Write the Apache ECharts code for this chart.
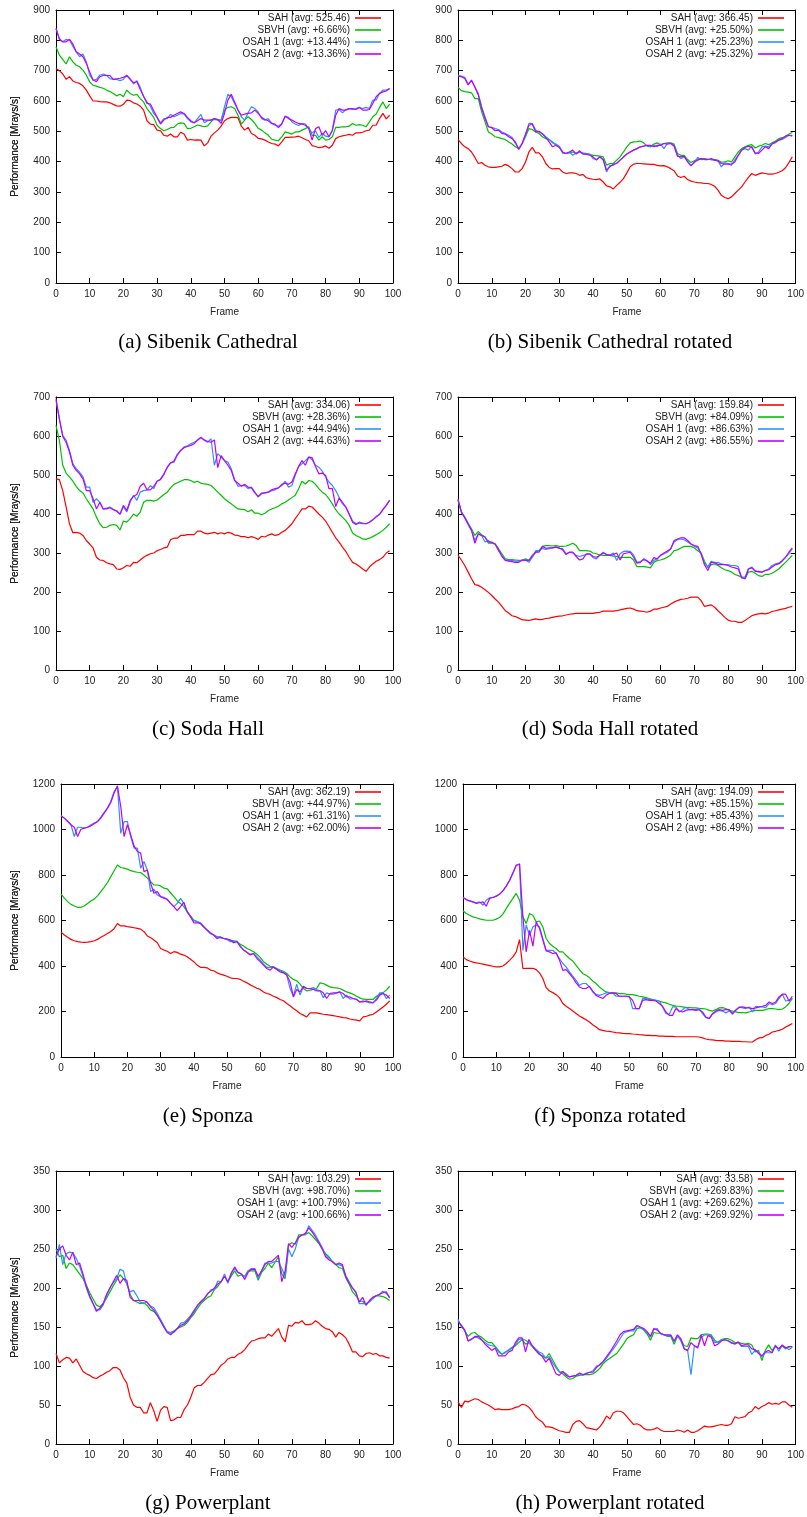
<!DOCTYPE html>
<html>
<head>
<meta charset="utf-8">
<script src="https://cdn.jsdelivr.net/npm/echarts@6/dist/echarts.min.js"></script>
<style>
  html, body { margin: 0; padding: 0; background: #fff; }
  #chart { width: 807px; height: 1517px; }
</style>
</head>
<body>
<div id="chart"></div>
<script>
// frame numbers on the x axis
const frames = Array.from({ length: 100 }, (_, i) => i);

// (a) Sibenik Cathedral
const sibenikNames = ['SAH (avg: 525.46)', 'SBVH (avg: +6.66%)', 'OSAH 1 (avg: +13.44%)', 'OSAH 2 (avg: +13.36%)'];
const sibenikSah = [707,700,689,672,680,666,661,658,650,636, 617,600,600,598,597,597,594,589,584,583, 589,603,601,594,590,583,570,535,524,522, 504,502,487,484,491,482,482,497,491,471, 473,471,472,471,452,462,484,495,504,517, 535,542,546,546,545,517,504,513,493,487, 477,475,471,465,460,458,452,465,480,480, 481,482,484,479,473,469,453,450,446,448, 452,444,454,476,482,485,487,490,487,495, 495,497,502,504,520,520,542,559,541,553];
const sibenikSbvh = [779,751,737,722,746,729,718,713,702,685, 663,652,649,645,642,636,631,625,617,622, 614,636,625,619,622,608,597,575,561,546, 520,509,502,506,512,513,524,528,526,509, 510,515,521,518,515,518,531,542,539,537, 570,579,581,575,553,524,537,548,539,526, 510,504,495,487,474,471,469,482,498,495, 491,498,498,504,509,515,487,487,471,482, 471,473,482,513,513,515,515,517,526,520, 522,520,515,531,548,557,578,597,575,590];
const sibenikOsah1 = [839,806,795,803,801,781,762,746,755,729, 685,669,671,685,689,685,674,671,671,667, 671,685,674,656,667,645,614,597,583,559, 546,528,542,542,556,548,553,559,557,542, 531,528,542,556,528,535,537,539,537,535, 581,622,614,592,570,548,537,561,581,575, 564,542,537,542,526,520,517,526,550,546, 531,524,519,526,524,509,495,502,480,493, 484,482,504,570,572,561,572,575,572,575, 579,575,579,575,603,603,625,636,636,641];
const sibenikOsah2 = [839,803,795,795,803,788,762,755,746,724, 696,669,664,680,684,684,684,671,673,675, 678,684,671,660,664,638,616,592,590,568, 546,524,537,546,546,553,559,564,559,546, 535,528,535,542,537,537,537,542,539,526, 559,603,622,597,570,553,557,559,561,570, 559,546,539,535,526,524,512,524,550,542, 537,531,526,524,520,509,471,509,515,487, 502,482,502,553,575,570,570,575,575,572, 579,570,570,572,592,614,625,630,633,641];

// (b) Sibenik Cathedral rotated
const sibenikRotNames = ['SAH (avg: 366.45)', 'SBVH (avg: +25.50%)', 'OSAH 1 (avg: +25.23%)', 'OSAH 2 (avg: +25.32%)'];
const sibenikRotSah = [473,460,449,443,432,414,394,397,388,383, 381,381,383,385,391,386,377,366,366,377, 399,432,447,429,429,416,394,381,376,377, 377,366,361,363,363,361,355,358,347,344, 342,341,343,333,320,317,310,322,332,344, 363,383,392,394,394,393,392,391,391,388, 386,387,383,377,370,353,348,352,341,336, 333,331,330,328,328,325,319,306,289,282, 278,284,295,306,317,333,348,361,355,359, 363,361,359,359,361,365,370,380,397,416];
const sibenikRotSbvh = [645,634,631,629,627,608,608,564,531,498, 491,482,479,476,473,465,458,449,443,460, 482,509,506,498,493,482,476,473,465,454, 449,429,427,429,432,427,431,427,425,424, 421,420,418,416,388,394,394,405,416,432, 449,462,465,466,468,462,451,449,458,462, 456,460,462,462,458,427,421,421,407,397, 403,409,410,410,408,407,407,405,398,399, 403,399,416,432,443,449,454,456,445,451, 454,460,456,462,468,476,479,484,491,496];
const sibenikRotOsah1 = [685,682,678,656,666,647,625,581,548,515, 513,509,506,498,493,487,480,460,443,460, 487,526,526,504,498,493,482,473,462,458, 451,429,427,432,421,429,432,429,427,425, 410,407,416,405,366,388,388,396,405,414, 425,432,438,443,449,451,454,449,454,449, 458,443,460,460,454,421,410,416,402,388, 396,414,407,408,408,407,405,402,383,396, 394,388,407,421,438,443,438,451,425,432, 449,451,449,460,462,471,473,480,487,487];
const sibenikRotOsah2 = [682,680,674,653,669,645,620,576,542,515, 512,502,504,493,491,482,476,465,440,460, 491,520,524,498,500,491,480,465,449,454, 447,432,427,432,438,425,436,425,425,421, 416,405,416,407,372,383,392,394,405,416, 425,432,438,443,449,451,454,454,449,454, 454,460,458,460,451,418,416,418,399,386, 399,405,410,407,407,410,405,403,394,392, 392,392,399,421,438,447,451,447,429,427, 438,449,443,458,465,471,476,484,487,484];

// (c) Soda Hall
const sodaNames = ['SAH (avg: 334.06)', 'SBVH (avg: +28.36%)', 'OSAH 1 (avg: +44.94%)', 'OSAH 2 (avg: +44.63%)'];
const sodaSah = [490,488,460,418,375,352,353,351,345,332, 323,313,289,282,281,275,272,270,259,258, 262,268,266,276,275,282,289,294,298,300, 306,309,313,315,334,338,338,345,345,347, 347,347,356,356,351,349,351,353,349,352, 349,353,351,346,345,342,342,339,342,339, 335,343,341,346,349,345,347,353,358,366, 375,388,400,413,413,420,418,409,400,392, 382,368,353,339,328,315,304,289,276,272, 266,259,253,264,272,279,283,289,300,306];
const sodaSbvh = [627,589,525,505,495,484,471,460,454,439, 426,413,392,375,365,366,371,373,371,359, 382,379,388,400,394,405,430,435,435,433, 436,443,450,456,467,476,480,484,488,488, 486,481,484,479,477,476,473,465,456,448, 439,432,426,419,413,412,411,406,411,402, 402,398,402,409,413,416,420,426,430,436, 442,448,465,484,477,486,484,476,465,456, 450,439,426,411,400,392,383,371,351,345, 341,336,335,338,342,347,352,358,366,375];
const sodaOsah1 = [691,644,602,589,563,529,516,507,496,469, 469,430,439,430,413,415,418,412,409,399, 419,405,430,448,435,456,460,462,473,465, 484,490,503,519,531,533,550,563,572,575, 580,584,589,597,589,584,593,525,555,546, 537,533,516,488,471,473,473,465,469,456, 443,454,454,456,460,462,467,473,484,469, 473,499,522,529,537,546,539,525,520,510, 495,482,473,460,443,426,418,399,382,375, 379,377,375,379,385,394,399,411,422,436];
const sodaOsah2 = [696,644,599,584,559,525,512,503,490,460, 460,439,413,430,413,413,416,411,407,400, 422,409,435,445,450,471,479,462,462,471, 484,488,501,520,531,536,553,563,570,573, 576,580,590,596,590,586,584,590,519,550, 537,525,512,486,479,471,476,469,467,454, 445,452,454,456,462,465,467,476,479,476, 482,503,522,537,525,546,544,522,503,505, 499,465,465,419,441,430,418,400,379,373, 377,375,375,379,385,392,399,411,422,435];

// (d) Soda Hall rotated
const sodaRotNames = ['SAH (avg: 159.84)', 'SBVH (avg: +84.09%)', 'OSAH 1 (avg: +86.63%)', 'OSAH 2 (avg: +86.55%)'];
const sodaRotSah = [294,282,268,251,234,219,217,212,206,199, 191,182,174,163,152,146,139,137,133,129, 128,127,129,131,129,130,132,133,135,137, 138,139,141,143,144,145,145,145,145,145, 145,147,148,151,151,151,151,152,154,156, 158,159,156,152,151,150,148,151,156,156, 159,161,163,169,174,178,181,182,184,187, 187,187,178,163,165,167,161,152,144,135, 128,125,125,122,122,127,133,139,142,144, 145,144,146,150,152,154,156,158,161,163];
const sodaRotSbvh = [435,405,392,377,362,345,355,347,341,325, 325,323,311,298,285,283,283,282,281,281, 285,281,289,302,306,317,319,319,318,319, 317,317,318,321,325,319,306,306,306,305, 300,298,295,294,294,294,292,291,289,289, 289,289,282,265,265,265,264,262,276,281, 282,285,289,295,306,308,313,317,317,317, 313,306,300,279,262,270,272,268,262,257, 255,251,245,242,238,234,251,253,248,242, 240,245,245,248,253,259,268,276,285,294];
const sodaRotOsah1 = [436,405,392,375,358,332,349,345,328,332, 325,323,306,294,282,281,281,279,279,281, 282,276,289,306,306,312,309,311,313,315, 312,311,298,302,300,294,291,294,296,298, 288,285,294,302,296,295,300,281,298,304, 305,304,295,276,278,282,281,270,281,285, 294,298,302,311,328,334,336,334,328,323, 317,313,298,272,265,279,274,276,272,270, 270,268,268,265,238,238,259,264,255,251, 251,255,259,268,272,274,281,289,298,311];
const sodaRotOsah2 = [439,405,390,373,358,325,349,345,341,328, 328,323,308,291,281,279,278,276,276,282, 281,281,294,302,302,317,312,313,313,315, 313,308,296,302,302,291,282,285,298,298, 291,289,294,300,296,294,296,300,282,298, 300,302,289,274,276,285,279,274,288,285, 294,300,305,311,332,336,339,339,332,323, 319,317,298,270,255,276,276,270,270,270, 268,264,262,259,236,234,259,262,253,253, 251,255,257,264,270,272,279,289,302,313];

// (e) Sponza
const sponzaNames = ['SAH (avg: 362.19)', 'SBVH (avg: +44.97%)', 'OSAH 1 (avg: +61.31%)', 'OSAH 2 (avg: +62.00%)'];
const sponzaSah = [549,536,526,517,511,507,505,504,505,507, 511,517,526,534,543,552,564,587,576,576, 573,571,568,565,562,551,532,524,514,502, 477,470,465,455,463,460,452,448,441,430, 419,404,394,394,392,382,379,370,364,360, 355,348,345,345,341,333,326,317,310,302, 297,286,279,275,267,261,253,247,235,225, 213,203,191,184,176,194,194,194,191,188, 186,184,182,179,176,173,172,167,164,162, 159,176,179,184,188,198,209,220,232,247];
const sponzaSbvh = [717,698,683,671,664,658,658,664,675,686, 694,708,727,746,767,793,819,844,833,830, 826,819,815,812,811,800,786,771,756,756, 752,742,739,722,705,687,675,661,639,620, 602,595,587,570,558,543,536,529,526,521, 518,514,511,507,496,488,477,470,463,452, 438,419,408,399,396,389,382,377,367,352, 341,335,320,301,291,294,297,301,326,323, 316,308,305,304,301,294,286,282,276,267, 260,254,253,253,253,267,276,283,294,311];
const sponzaOsah1 = [1060,1050,1038,1021,969,1010,1010,1006,1010,1021, 1028,1035,1054,1075,1094,1124,1167,1189,983,1035, 1035,969,918,918,830,859,822,727,737,712, 705,702,693,675,661,675,697,675,639,617, 599,595,590,573,558,543,536,526,529,521, 517,507,507,510,488,470,460,452,455,441, 426,408,394,394,394,385,379,371,360,301, 267,320,272,308,301,301,305,297,291,261, 282,276,276,282,286,257,272,254,257,254, 242,247,242,238,239,257,282,282,257,272];
const sponzaOsah2 = [1060,1050,1035,1021,1010,969,1001,1006,1010,1016, 1025,1035,1050,1072,1094,1119,1160,1192,1101,969, 1021,976,928,903,896,815,822,764,720,727, 705,698,693,675,661,643,661,680,639,617, 590,590,587,573,558,546,536,521,526,521, 518,514,502,507,485,470,460,448,455,433, 419,404,389,382,396,385,374,370,360,330, 264,297,286,311,301,301,297,291,291,282, 257,279,282,282,286,279,264,264,257,253, 242,242,247,242,238,250,272,279,272,257];

// (f) Sponza rotated
const sponzaRotNames = ['SAH (avg: 194.09)', 'SBVH (avg: +85.15%)', 'OSAH 1 (avg: +85.43%)', 'OSAH 2 (avg: +86.49%)'];
const sponzaRotSah = [440,428,422,417,414,411,408,405,402,399, 396,396,400,411,425,440,462,516,389,390, 390,390,384,370,345,305,290,283,274,261, 235,223,213,202,191,180,172,164,154,142, 132,120,117,114,113,110,107,106,104,103, 103,101,100,98,97,95,95,94,94,92, 92,91,91,91,89,89,89,89,89,89, 89,88,84,79,76,75,73,72,72,70, 70,69,69,69,67,67,66,66,76,84, 85,95,100,110,113,117,122,132,139,147];
const sponzaRotSbvh = [643,631,623,616,612,607,604,601,601,601, 606,613,628,653,675,697,719,689,616,587, 631,623,594,598,572,521,499,487,477,462, 462,447,433,422,403,384,367,359,349,334, 323,308,296,286,283,282,282,279,279,276, 274,274,271,267,264,261,257,252,249,245, 241,238,232,227,224,223,220,217,217,216, 216,214,213,211,205,202,208,216,217,213, 205,202,198,195,195,194,198,202,205,205, 205,208,213,213,211,208,211,220,235,257];
const sponzaRotOsah1 = [701,692,686,682,678,682,667,689,700,701, 707,716,730,751,775,807,843,848,469,580, 535,572,580,572,521,469,469,469,455,433, 411,396,374,355,337,315,323,323,308,286, 276,271,276,282,282,282,267,267,267,267, 267,213,213,213,257,257,252,252,249,246, 220,191,188,220,220,198,208,220,208,208, 208,213,191,173,169,188,198,205,202,194, 202,194,208,220,216,213,220,198,223,220, 220,217,235,230,235,257,276,246,249,257];
const sponzaRotOsah2 = [701,692,686,682,675,678,682,663,697,701, 707,716,730,751,777,810,843,848,616,462, 557,487,594,565,514,466,462,455,458,426, 381,384,367,349,326,308,301,301,311,290, 271,264,257,271,279,282,279,267,267,267, 264,249,213,213,249,252,249,249,246,235, 223,198,183,183,213,202,198,205,208,208, 205,208,198,176,169,191,202,208,205,208, 208,188,205,217,220,217,216,213,216,220, 223,227,242,235,242,264,276,276,246,267];

// (g) Powerplant
const powerNames = ['SAH (avg: 103.29)', 'SBVH (avg: +98.70%)', 'OSAH 1 (avg: +100.79%)', 'OSAH 2 (avg: +100.66%)'];
const powerSah = [116,104,108,111,110,104,109,101,93,90, 88,85,84,87,89,92,94,98,98,95, 85,78,60,50,47,47,40,40,53,43, 29,43,48,47,30,31,34,34,44,50, 60,72,75,75,79,84,89,90,95,101, 104,109,111,111,115,117,121,127,132,133, 135,136,136,141,138,143,148,137,131,152, 151,156,155,158,153,153,154,158,155,151, 148,147,144,137,143,140,136,128,118,118, 113,112,116,117,115,116,113,113,111,110];
const powerSbvh = [250,240,242,225,232,230,224,218,212,204, 194,186,178,176,180,187,195,203,210,217, 212,206,192,184,182,180,181,178,172,170, 165,158,150,144,143,145,148,150,152,156, 162,167,174,180,184,188,190,198,202,208, 215,208,215,222,215,217,215,222,222,222, 210,220,225,232,226,233,240,218,212,255, 258,256,268,268,269,271,267,262,257,250, 244,240,234,230,226,225,213,205,195,190, 183,183,178,183,188,190,190,189,187,184];
const powerOsah1 = [238,256,230,244,246,245,238,228,215,200, 188,180,172,172,178,190,200,207,212,224, 222,205,195,197,190,182,180,182,177,175, 168,160,152,144,142,143,148,155,156,160, 165,172,177,183,187,192,198,198,209,208, 218,206,220,225,220,218,214,222,225,225, 212,222,232,232,232,234,234,225,215,250, 240,250,265,268,268,280,274,268,260,252, 242,238,234,230,230,228,216,208,200,195, 180,180,180,182,186,190,192,196,193,189];
const powerOsah2 = [240,250,254,242,236,246,230,232,218,202, 190,180,170,174,180,192,200,208,216,206, 212,210,188,184,184,184,184,182,176,172, 165,158,150,143,140,144,148,152,154,158, 164,170,178,182,186,193,196,200,205,208, 215,208,218,227,220,218,211,220,224,224, 215,222,230,234,234,238,242,208,222,257, 252,258,265,268,270,277,272,265,258,250, 240,236,234,230,232,230,214,206,200,194, 182,188,178,184,188,190,192,194,195,187];

// (h) Powerplant rotated
const powerRotNames = ['SAH (avg: 33.58)', 'SBVH (avg: +269.83%)', 'OSAH 1 (avg: +269.62%)', 'OSAH 2 (avg: +269.92%)'];
const powerRotSah = [54,47,55,54,56,58,57,54,52,50, 47,44,45,44,44,44,45,47,48,51, 50,47,42,35,31,28,22,22,21,19, 17,16,15,15,25,29,30,26,21,20, 19,18,22,28,36,32,40,42,42,40, 35,30,25,26,24,20,18,18,19,21, 18,16,16,16,16,18,17,15,18,15, 15,17,20,23,22,22,23,24,25,24, 24,26,35,33,34,35,40,42,48,45, 48,50,53,51,52,51,54,54,50,47];
const powerRotSbvh = [158,152,145,138,142,143,139,137,133,130, 130,125,120,115,118,120,123,126,130,134, 128,130,125,120,115,113,110,116,108,100, 93,90,86,83,84,87,88,89,89,89, 90,93,97,103,107,110,113,116,122,128, 135,138,140,148,149,146,141,133,143,142, 142,140,138,138,128,138,134,126,125,136, 135,135,140,141,141,140,133,130,134,135, 135,133,130,130,129,128,129,127,118,120, 107,120,127,120,125,122,126,124,121,124];
const powerRotOsah1 = [160,150,146,132,135,137,136,133,130,127, 126,125,118,115,117,121,124,127,134,135, 133,130,126,122,118,116,110,112,104,98, 92,93,90,86,87,88,90,88,91,92, 94,100,101,105,110,116,122,128,135,142, 144,145,145,151,149,147,143,137,147,148, 141,140,139,139,131,139,132,122,120,89, 126,124,136,140,140,139,130,131,133,133, 133,129,129,130,125,125,125,115,120,118, 112,117,117,117,127,119,126,122,124,125];
const powerRotOsah2 = [157,152,146,132,134,138,138,134,128,124, 120,123,113,113,113,118,120,130,136,136, 118,134,126,120,116,112,105,110,100,90, 88,93,88,86,87,88,91,89,90,92, 92,98,102,106,112,118,125,132,140,144, 145,146,147,152,150,148,144,138,148,146, 142,140,140,140,132,140,135,122,120,130, 126,123,140,126,139,137,126,128,132,134, 132,130,128,131,126,127,127,122,121,116, 113,118,120,117,126,122,127,123,125,125];

const colors = ['#ff0000', '#00c000', '#2e90ff', '#c000ff'];
const textFont = 'Liberation Sans';
const textColor = '#222';
const plotHeight = 273;

const panels = [
  { caption: '(a) Sibenik Cathedral', left: 56, top: 10, right: 393, yMax: 900, yStep: 100, names: sibenikNames, values: [sibenikSah, sibenikSbvh, sibenikOsah1, sibenikOsah2] },
  { caption: '(b) Sibenik Cathedral rotated', left: 458, top: 10, right: 796, yMax: 900, yStep: 100, names: sibenikRotNames, values: [sibenikRotSah, sibenikRotSbvh, sibenikRotOsah1, sibenikRotOsah2] },
  { caption: '(c) Soda Hall', left: 56, top: 397, right: 393, yMax: 700, yStep: 100, names: sodaNames, values: [sodaSah, sodaSbvh, sodaOsah1, sodaOsah2] },
  { caption: '(d) Soda Hall rotated', left: 458, top: 397, right: 796, yMax: 700, yStep: 100, names: sodaRotNames, values: [sodaRotSah, sodaRotSbvh, sodaRotOsah1, sodaRotOsah2] },
  { caption: '(e) Sponza', left: 61, top: 784, right: 393, yMax: 1200, yStep: 200, names: sponzaNames, values: [sponzaSah, sponzaSbvh, sponzaOsah1, sponzaOsah2] },
  { caption: '(f) Sponza rotated', left: 463, top: 784, right: 796, yMax: 1200, yStep: 200, names: sponzaRotNames, values: [sponzaRotSah, sponzaRotSbvh, sponzaRotOsah1, sponzaRotOsah2] },
  { caption: '(g) Powerplant', left: 56, top: 1171, right: 393, yMax: 350, yStep: 50, names: powerNames, values: [powerSah, powerSbvh, powerOsah1, powerOsah2] },
  { caption: '(h) Powerplant rotated', left: 458, top: 1171, right: 796, yMax: 350, yStep: 50, names: powerRotNames, values: [powerRotSah, powerRotSbvh, powerRotOsah1, powerRotOsah2] },
];

const chart = echarts.init(document.getElementById('chart'), null, { renderer: 'canvas' });

const labelStyle = { fontSize: 10, color: textColor, fontFamily: textFont };
const frameLine = { show: true, onZero: false, lineStyle: { color: '#000', width: 1 } };
const innerTick = { show: true, inside: true, length: 5, lineStyle: { color: '#000', width: 1 } };

const grids = [];
const xAxes = [];
const yAxes = [];
const series = [];
const legends = [];
const captions = [];

panels.forEach((p, i) => {
  grids.push({ left: p.left, top: p.top, width: p.right - p.left, height: plotHeight });

  const xBase = { gridIndex: i, type: 'value', min: 0, max: 100, interval: 10, axisLine: frameLine, axisTick: innerTick, splitLine: { show: false } };
  xAxes.push(Object.assign({}, xBase, {
    position: 'bottom',
    axisLabel: Object.assign({ margin: 6 }, labelStyle),
    name: 'Frame', nameLocation: 'middle', nameGap: 24, nameTextStyle: labelStyle,
  }));
  xAxes.push(Object.assign({}, xBase, { position: 'top', axisLabel: { show: false } }));

  const yBase = { gridIndex: i, type: 'value', min: 0, max: p.yMax, interval: p.yStep, axisLine: frameLine, axisTick: innerTick, splitLine: { show: false } };
  yAxes.push(Object.assign({}, yBase, {
    position: 'left',
    axisLabel: Object.assign({ margin: 6, formatter: (v) => String(v) }, labelStyle),
    name: 'Performance [Mrays/s]', nameLocation: 'middle', nameGap: p.left - 20, nameTextStyle: labelStyle,
  }));
  yAxes.push(Object.assign({}, yBase, { position: 'right', axisLabel: { show: false } }));

  p.values.forEach((vals, k) => {
    series.push({
      name: p.names[k],
      type: 'line',
      xAxisIndex: 2 * i,
      yAxisIndex: 2 * i,
      data: vals.map((v, j) => [frames[j], v]),
      symbol: 'none',
      color: colors[k],
      lineStyle: { color: colors[k], width: 1.2 },
      emphasis: { disabled: true },
    });
  });

  legends.push({
    data: p.names,
    orient: 'vertical',
    align: 'right',
    right: 807 - (p.right - 12),
    top: p.top + 2,
    padding: 0,
    itemGap: 0,
    itemWidth: 26,
    itemHeight: 1.6,
    icon: 'rect',
    selectedMode: false,
    textStyle: { fontSize: 10, lineHeight: 12, color: textColor, fontFamily: textFont },
  });

  const centerX = p.left < 400 ? 208 : 610;
  captions.push({
    type: 'text',
    x: centerX,
    y: p.top + plotHeight + 59,
    style: {
      text: p.caption,
      fill: '#000',
      font: '21px "Liberation Serif"',
      align: 'center',
      verticalAlign: 'middle',
    },
  });
});

chart.setOption({
  animation: false,
  backgroundColor: '#fff',
  grid: grids,
  xAxis: xAxes,
  yAxis: yAxes,
  legend: legends,
  series: series,
  graphic: captions,
});
</script>
</body>
</html>
